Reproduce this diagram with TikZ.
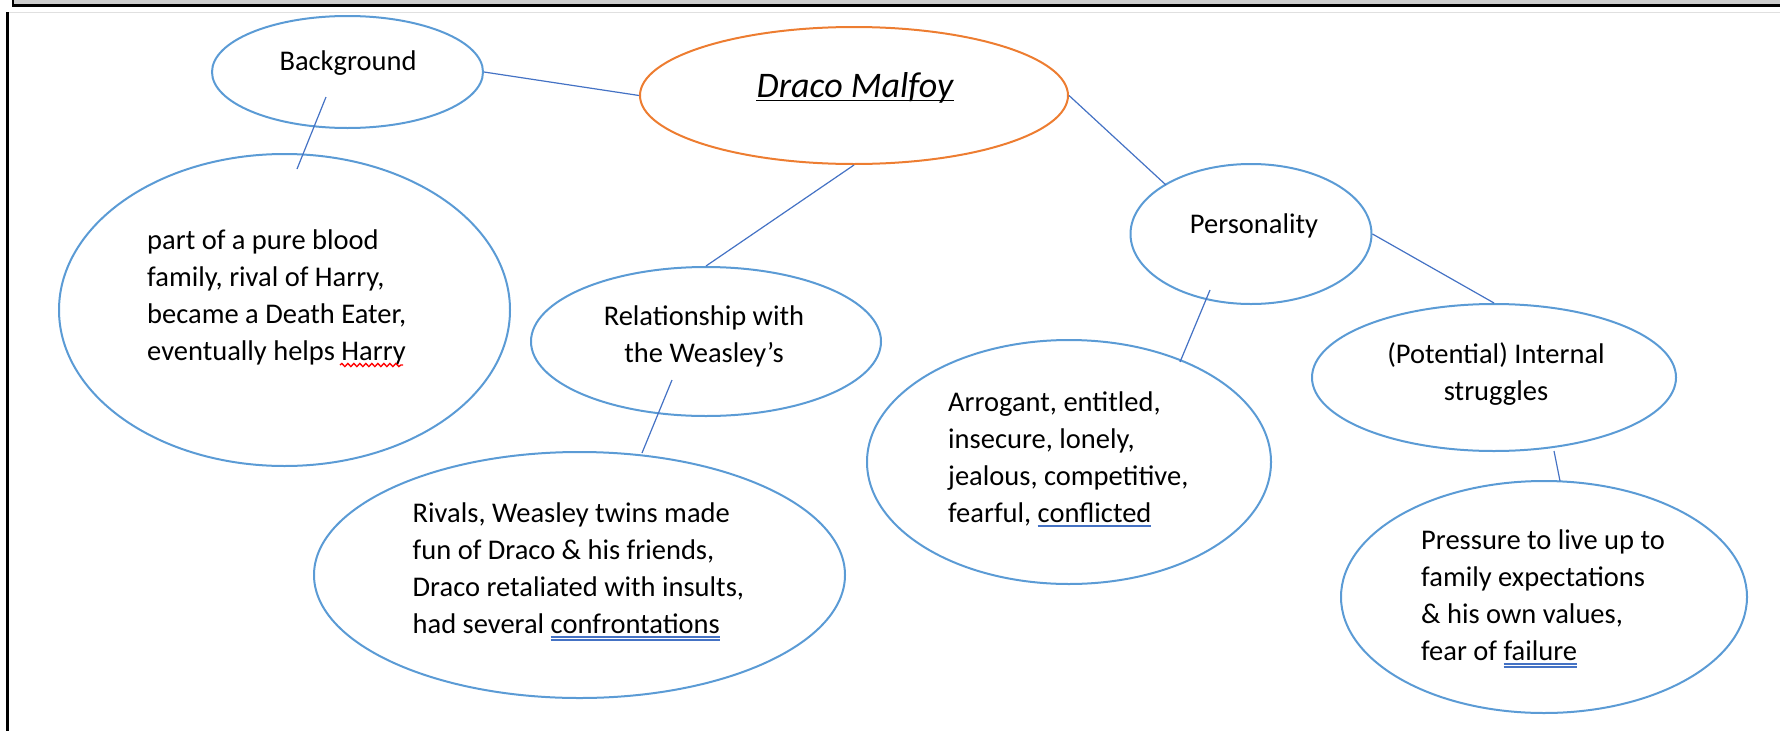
\documentclass[tikz,border=0pt]{standalone}
\usepackage{fontspec}
\setmainfont{Carlito}
\usetikzlibrary{positioning}
\usetikzlibrary{shapes.geometric}
\usetikzlibrary{decorations.pathmorphing}

\definecolor{ovalblue}{RGB}{91,155,213}
\definecolor{linkblue}{RGB}{68,114,196}
\definecolor{ovalorange}{RGB}{237,125,49}
\definecolor{bandgray}{RGB}{205,205,205}

\newcommand{\singlemark}[1]{\setbox0\hbox{#1}\rlap{\color{linkblue}\rule[-4.7pt]{\wd0}{1.4pt}}\box0}
\newcommand{\doublemark}[1]{\setbox0\hbox{#1}\rlap{\color{linkblue}\rule[-4.6pt]{\wd0}{1.2pt}}\rlap{\color{linkblue}\rule[-7.6pt]{\wd0}{1.2pt}}\box0}

\tikzset{
  oval/.style={ellipse, draw=ovalblue, line width=2pt, inner sep=0pt},
  mainoval/.style={ellipse, draw=ovalorange, line width=2pt, inner sep=0pt},
  link/.style={draw=linkblue, line width=1.2pt},
  words/.style={inner sep=0pt, font=\fontsize{28.5}{36.7}\selectfont},
  spellmark/.style={draw=red, line width=1.3pt, decorate, decoration={snake, amplitude=1.6pt, segment length=6pt}}
}

\begin{document}
\begin{tikzpicture}[x=1pt, y=-1pt]

    % Frame
    \useasboundingbox (0,0) rectangle (1780,731);
    \fill[bandgray] (13,0) rectangle (1780,4);
    \draw[line width=2.6pt] (12,5.3) -- (1780,5.3);
    \draw[line width=1.6pt] (13,0) -- (13,6);
    \draw[line width=2.6pt] (7.5,12) -- (7.5,731);
    \draw[black!12, line width=1pt] (9,12.5) -- (1780,12.5);

    % Ovals
    \node[mainoval, minimum width=428, minimum height=137] (draco) at (854,95.5) {};
    \node[oval, minimum width=271, minimum height=112] (background) at (347.5,72) {};
    \node[oval, minimum width=451, minimum height=312] (bgdetail) at (284.5,310) {};
    \node[oval, minimum width=350, minimum height=149] (weasley) at (706,341.5) {};
    \node[oval, minimum width=531, minimum height=246] (weasleydetail) at (579.5,575) {};
    \node[oval, minimum width=241, minimum height=140] (personality) at (1251,234) {};
    \node[oval, minimum width=404, minimum height=244] (traits) at (1069,462) {};
    \node[oval, minimum width=364, minimum height=147] (struggles) at (1494,377.5) {};
    \node[oval, minimum width=406, minimum height=232] (pressure) at (1544,597) {};

    % Labels
    \node[words, anchor=base, font=\fontsize{36}{44}\selectfont\itshape] (dracolabel) at ([shift={(1,1.5)}]draco.center) {Draco Malfoy};
    \draw[line width=1.6pt] ([yshift=-3.5]dracolabel.base west) -- ([yshift=-3.5]dracolabel.base east);
    \node[words, anchor=base] (backgroundlabel) at ([shift={(0.5,-2)}]background.center) {Background};
    \node[words, anchor=base] (personalitylabel) at ([shift={(3,-1)}]personality.center) {Personality};
    \node[words, align=center, anchor=base] (weasleylabel) at ([shift={(-2,20.5)}]weasley.center) {Relationship with\\the Weasley’s};
    \node[words, align=center, anchor=base] (struggleslabel) at ([shift={(2,22.5)}]struggles.center) {(Potential) Internal\\struggles};
    \node[words, align=left, anchor=base west] (bgdetaillabel) at ([shift={(-137.5,50)}]bgdetail.center) {part of a pure blood\\family, rival of Harry,\\became a Death Eater,\\eventually helps Harry};
    \draw[spellmark] ([shift={(193,5)}]bgdetaillabel.base west) -- ([shift={(256,5)}]bgdetaillabel.base west);
    \node[words, align=left, anchor=base west] (weasleydetaillabel) at ([shift={(-167,58)}]weasleydetail.center) {Rivals, Weasley twins made\\fun of Draco \& his friends,\\Draco retaliated with insults,\\had several \doublemark{confrontations}};
    \node[words, align=left, anchor=base west] (traitslabel) at ([shift={(-121,60)}]traits.center) {Arrogant, entitled,\\insecure, lonely,\\jealous, competitive,\\fearful, \singlemark{conflicted}};
    \node[words, align=left, anchor=base west] (pressurelabel) at ([shift={(-123,63)}]pressure.center) {Pressure to live up to\\family expectations\\\& his own values,\\fear of \doublemark{failure}};

    % Links
    \draw[link] (background.east) -- (draco.west);
    \draw[link] ([shift={(-21.5,25)}]background.center) -- ([shift={(12.5,-141)}]bgdetail.center);
    \draw[link] (draco.south) -- (weasley.north);
    \draw[link] ([shift={(-34,38.5)}]weasley.center) -- ([shift={(62.5,-122)}]weasleydetail.center);
    \draw[link] (draco.east) -- ([shift={(-85,-49)}]personality.center);
    \draw[link] ([shift={(-41,56)}]personality.center) -- ([shift={(111,-100)}]traits.center);
    \draw[link] (personality.east) -- (struggles.north);
    \draw[link] ([shift={(60,73.5)}]struggles.center) -- ([shift={(16,-116)}]pressure.center);

\end{tikzpicture}
\end{document}
